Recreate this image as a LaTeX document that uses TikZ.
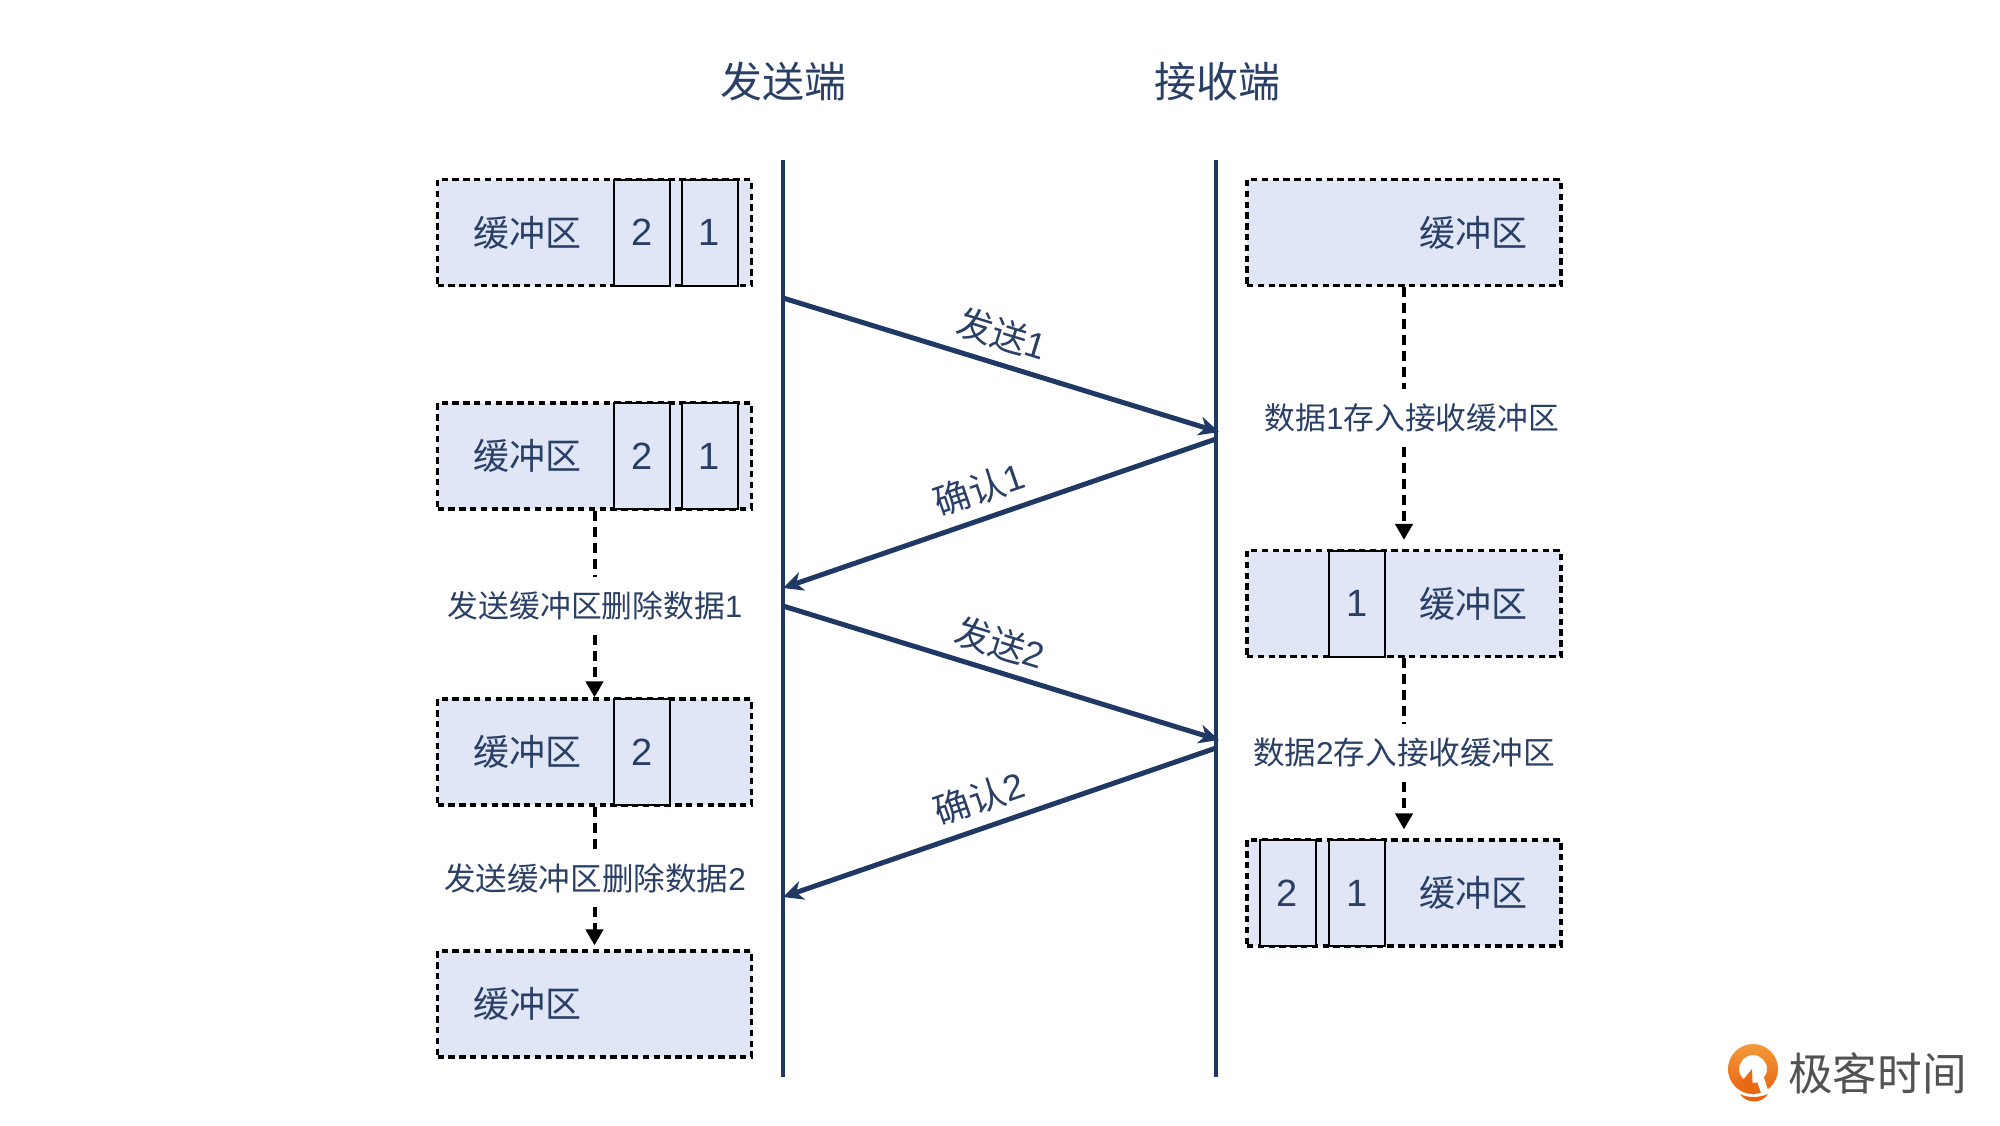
\documentclass[tikz,border=0pt]{standalone}
\usepackage{fontspec}
\setmainfont{Noto Sans CJK SC}
\newfontfamily\digitfont{Liberation Sans}
\newcommand{\dg}[1]{{\digitfont #1}}
\usetikzlibrary{arrows.meta,calc}
\definecolor{navy}{HTML}{1F3864}
\definecolor{inktext}{HTML}{2A3F66}
\definecolor{buf}{HTML}{E0E6F6}
\definecolor{logotop}{HTML}{F39A3C}
\definecolor{logobot}{HTML}{E9620F}
\tikzset{
  bufbox/.style={draw=black,fill=buf,line width=1.6pt,dash pattern=on 3.2pt off 2.2pt,minimum width=157pt,minimum height=53pt,inner sep=0pt},
  cell/.style={draw=black,fill=buf,line width=1pt,minimum width=28pt,minimum height=53pt,inner sep=0pt,text=inktext,font=\digitfont\fontsize{19}{22}\selectfont},
  buftext/.style={text=inktext,inner sep=0pt,font=\fontsize{18}{20}\selectfont},
  title/.style={text=inktext,inner sep=0pt,font=\fontsize{21}{24}\selectfont},
  note/.style={text=inktext,inner sep=0pt,font=\fontsize{15.4}{18}\selectfont,minimum height=29pt},
  note2/.style={note,font=\fontsize{15.8}{18}\selectfont},
  msg/.style={text=inktext,inner sep=0pt,font=\fontsize{18}{20}\selectfont},
  axis/.style={draw=navy,line width=1.9pt},
  msgline/.style={draw=navy,line width=2.5pt,-{Stealth[length=10pt,width=9.5pt,inset=3pt]}},
  flow/.style={draw=black,line width=2pt,dash pattern=on 5pt off 3pt},
  flowend/.style={flow,-{Triangle[length=8pt,width=8.5pt]}},
}
\begin{document}
\begin{tikzpicture}[x=0.5pt,y=-0.5pt]
\useasboundingbox (0,0) rectangle (2000,1125);
% titles
\node[title] (tsend) at (783,82) {发送端};
\node[title] (trecv) at (1217,82) {接收端};
% time axes
\coordinate (atop) at (783,160); \coordinate (abot) at (783,1077);
\coordinate (btop) at (1216,160); \coordinate (bbot) at (1216,1077);
\draw[axis] (atop) -- (abot);
\draw[axis] (btop) -- (bbot);
% left buffers
\node[bufbox] (L1) at (594.5,232.5) {};
\node[cell] (L1b) at (642,232.5) {2};
\node[cell] (L1a) at (709.5,232.5) {1};
\node[buftext] (L1t) at (527,233) {缓冲区};
\node[bufbox] (L2) at (594.5,456) {};
\node[cell] (L2b) at (642,456) {2};
\node[cell] (L2a) at (709.5,456) {1};
\node[buftext] (L2t) at (527,456) {缓冲区};
\node[bufbox] (L3) at (594.5,752) {};
\node[cell] (L3b) at (642,752) {2};
\node[buftext] (L3t) at (527,752) {缓冲区};
\node[bufbox] (L4) at (594.5,1004) {};
\node[buftext] (L4t) at (527,1004) {缓冲区};
% right buffers
\node[bufbox] (R1) at (1404,232.5) {};
\node[buftext] (R1t) at (1473,233) {缓冲区};
\node[bufbox] (R2) at (1404,603.5) {};
\node[cell] (R2a) at (1357,603.5) {1};
\node[buftext] (R2t) at (1473,604) {缓冲区};
\node[bufbox] (R3) at (1404,893) {};
\node[cell] (R3b) at (1287.5,893) {2};
\node[cell] (R3a) at (1357,893) {1};
\node[buftext] (R3t) at (1473,893) {缓冲区};
% notes
\node[note] (N1) at (595,606) {发送缓冲区删除数据\dg{1}};
\node[note2] (N2) at (595,878) {发送缓冲区删除数据\dg{2}};
\node[note] (N3) at (1412,418) {数据\dg{1}存入接收缓冲区};
\node[note2] (N4) at (1404,753) {数据\dg{2}存入接收缓冲区};
% dashed flows
\draw[flow] (L2.south) -- (L2.south |- N1.north);
\draw[flowend] (L2.south |- N1.south) -- (L3.north);
\draw[flow] (L3.south) -- (L3.south |- N2.north);
\draw[flowend,shorten >=2pt] (L3.south |- N2.south) -- (L4.north);
\draw[flow] (R1.south) -- (R1.south |- N3.north);
\draw[flowend,shorten >=4.5pt] (R1.south |- N3.south) -- (R2.north);
\draw[flow] (R2.south) -- (R2.south |- N4.north);
\draw[flowend,shorten >=4.5pt] (R2.south |- N4.south) -- (R3.north);
% messages
\coordinate (s1a) at (783,298); \coordinate (s1b) at (1219,432);
\coordinate (c1a) at (1216,439); \coordinate (c1b) at (783,588);
\coordinate (s2a) at (783,606); \coordinate (s2b) at (1219,740);
\coordinate (c2a) at (1216,748); \coordinate (c2b) at (783,897);
\draw[msgline] (s1a) -- (s1b);
\draw[msgline] (c1a) -- (c1b);
\draw[msgline] (s2a) -- (s2b);
\draw[msgline] (c2a) -- (c2b);
\node[msg,rotate=-17] (m1) at (1002,334) {发送\dg{1}};
\node[msg,rotate=19] (m2) at (979,489) {确认\dg{1}};
\node[msg,rotate=-17] (m3) at (1000,643) {发送\dg{2}};
\node[msg,rotate=19] (m4) at (979,798) {确认\dg{2}};
% logo
\shade[top color=logotop,bottom color=logobot,even odd rule]
  (1753,1069) circle[radius=25] (1753,1069) circle[radius=14];
\fill[white] (1755,1075) -- (1762,1096) -- (1770,1096) -- (1767,1087) -- (1764,1078) -- cycle;
\fill[logobot!90!logotop] (1752,1069) -- (1742,1081) -- (1753,1095) -- cycle;
\fill[logobot] (1740,1094) .. controls (1748,1098) and (1758,1098) .. (1768,1094) .. controls (1762,1104) and (1746,1104) .. (1740,1094) -- cycle;
\node[text=black!68,inner sep=0pt,font=\fontsize{22.3}{24}\selectfont] (logo) at (1877.5,1073) {极客时间};
\end{tikzpicture}
\end{document}
